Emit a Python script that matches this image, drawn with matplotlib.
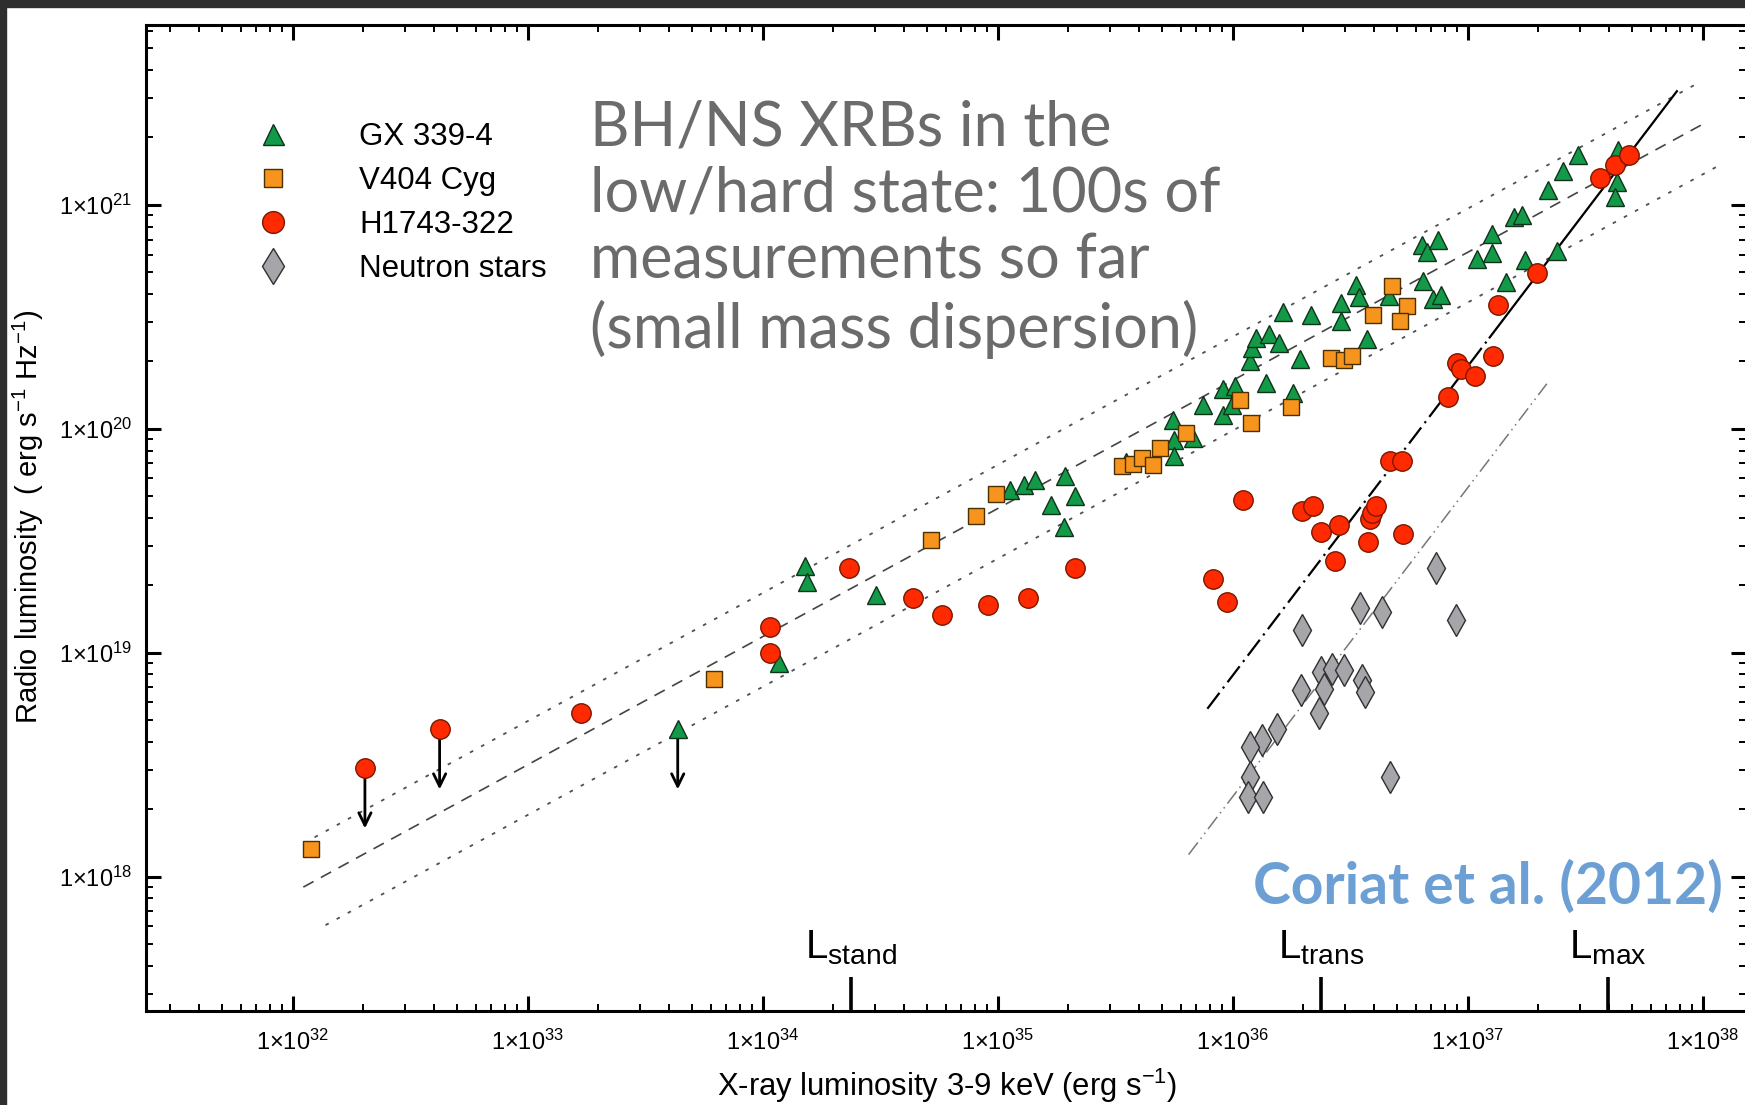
import numpy as np
import matplotlib as mpl
mpl.use('Agg')
import matplotlib.pyplot as plt
from matplotlib.patches import Rectangle
from matplotlib.ticker import LogLocator, FuncFormatter, NullFormatter

plt.rcParams['font.family'] = ['Liberation Sans', 'DejaVu Sans']
plt.rcParams['mathtext.fontset'] = 'custom'
plt.rcParams['mathtext.rm'] = 'Liberation Sans'
plt.rcParams['mathtext.it'] = 'Liberation Sans:italic'
plt.rcParams['mathtext.bf'] = 'Liberation Sans:bold'


##
## Data: X-ray luminosity / radio luminosity
##
gx_lx = [1.51e34, 1.54e34, 1.17e34, 3.03e34, 1.13e35, 1.29e35, 1.44e35, 1.93e35, 1.69e35, 2.13e35,
         1.91e35, 3.52e35, 5.56e35, 5.62e35, 5.62e35, 6.77e35, 7.47e35, 9.08e35, 9.08e35, 9.91e35,
         1.02e36, 1.19e36, 1.21e36, 1.26e36, 1.42e36, 1.57e36, 1.39e36, 1.81e36, 1.64e36, 2.15e36,
         1.93e36, 2.88e36, 2.88e36, 3.36e36, 3.44e36, 3.71e36, 4.61e36, 6.40e36, 6.68e36, 7.45e36,
         6.47e36, 7.13e36, 7.70e36, 1.09e37, 1.27e37, 1.27e37, 1.45e37, 1.76e37, 2.39e37, 1.57e37,
         1.71e37, 2.19e37, 2.55e37, 2.94e37, 4.36e37, 4.31e37, 4.22e37]
gx_lr = [2.43e19, 2.07e19, 8.97e18, 1.82e19, 5.35e19, 5.60e19, 5.93e19, 6.14e19, 4.56e19, 4.99e19,
         3.66e19, 7.11e19, 1.10e20, 8.95e19, 7.54e19, 9.06e19, 1.28e20, 1.15e20, 1.50e20, 1.28e20,
         1.55e20, 2.00e20, 2.29e20, 2.54e20, 2.65e20, 2.42e20, 1.60e20, 1.45e20, 3.33e20, 3.22e20,
         2.04e20, 3.66e20, 3.04e20, 4.39e20, 3.87e20, 2.51e20, 3.92e20, 6.63e20, 6.18e20, 6.94e20,
         4.59e20, 3.78e20, 3.96e20, 5.72e20, 7.43e20, 6.11e20, 4.54e20, 5.65e20, 6.25e20, 8.81e20,
         9.02e20, 1.17e21, 1.41e21, 1.67e21, 1.75e21, 1.27e21, 1.08e21]
gx_ul_lx = [4.35e33]
gx_ul_lr = [4.57e18]

v404_lx = [1.20e32, 6.2e33, 5.2e34, 8.1e34, 9.8e34, 3.37e35, 3.76e35, 4.1e35, 4.6e35, 4.9e35,
           6.3e35, 1.07e36, 1.20e36, 1.77e36, 2.62e36, 2.98e36, 3.22e36, 3.96e36, 4.77e36, 5.5e36,
           5.14e36]
v404_lr = [1.33e18, 7.6e18, 3.2e19, 4.1e19, 5.1e19, 6.8e19, 6.97e19, 7.4e19, 6.9e19, 8.2e19,
           9.6e19, 1.34e20, 1.06e20, 1.25e20, 2.08e20, 2.02e20, 2.11e20, 3.22e20, 4.34e20, 3.53e20,
           3.04e20]

h1743_lx = [1.68e33, 1.07e34, 1.07e34, 2.33e34, 4.34e34, 5.82e34, 9.1e34, 1.35e35, 2.13e35, 1.11e36,
            1.97e36, 2.20e36, 2.37e36, 2.82e36, 2.73e36, 8.24e35, 9.5e35, 3.75e36, 3.83e36, 3.92e36,
            4.09e36, 5.31e36, 4.66e36, 5.25e36, 8.22e36, 8.97e36, 9.37e36, 1.07e37, 1.28e37, 1.34e37,
            1.97e37, 3.66e37, 4.22e37, 4.86e37]
h1743_lr = [5.37e18, 1.31e19, 9.95e18, 2.38e19, 1.76e19, 1.47e19, 1.63e19, 1.76e19, 2.38e19, 4.83e19,
            4.31e19, 4.51e19, 3.47e19, 3.71e19, 2.57e19, 2.14e19, 1.69e19, 3.13e19, 3.97e19, 4.21e19,
            4.51e19, 3.39e19, 7.2e19, 7.2e19, 1.38e20, 1.97e20, 1.84e20, 1.72e20, 2.11e20, 3.57e20,
            4.98e20, 1.32e21, 1.51e21, 1.67e21]
h1743_ul_lx = [2.03e32, 4.22e32]
h1743_ul_lr = [3.06e18, 4.57e18]

ns_lx = [7.3e36, 3.48e36, 4.32e36, 8.87e36, 1.97e36, 2.37e36, 2.64e36, 2.98e36, 3.55e36, 3.67e36,
         2.45e36, 1.95e36, 2.34e36, 1.55e36, 1.33e36, 1.19e36, 1.18e36, 1.16e36, 1.35e36, 4.67e36]
ns_lr = [2.38e19, 1.59e19, 1.52e19, 1.40e19, 1.27e19, 8.2e18, 8.48e18, 8.38e18, 7.56e18, 6.67e18,
         6.9e18, 6.82e18, 5.37e18, 4.57e18, 4.07e18, 3.81e18, 2.8e18, 2.28e18, 2.28e18, 2.8e18]

## fitted relations: log Lr = norm + slope * (log Lx - 36)
std_slope, std_norm = 0.572, 20.216
std_band = [0.195, -0.224]
std_range = [1.11e32, 1.02e38]
band_ranges = [[1.24e32, 9.8e37], [1.38e32, 1.22e38]]
steep_slope, steep_norm = 1.38, 18.899
steep_range = [7.8e35, 1.24e37, 7.76e37]     # dash-dot part, then solid part
ns_slope, ns_norm = 1.379, 18.358
ns_range = [6.49e35, 2.17e37]

lmark_x = [2.37e34, 2.37e36, 3.95e37]
lmark_names = ['stand', 'trans', 'max']

ul_drop = 10**-0.27


##
## Figure
##
W, H = 1745, 1105
fig = plt.figure(figsize=(W/100, H/100), dpi=100)
fig.add_artist(Rectangle((0, 1 - 7/H), 1, 7/H, transform=fig.transFigure, color='#2e2e2e', zorder=0))
fig.add_artist(Rectangle((0, 0), 6/W, 1, transform=fig.transFigure, color='#2e2e2e', zorder=0))

ax = fig.add_axes([146/W, 1 - 1010.5/H, 1600/W, 986/H])
ax.set_xscale('log')
ax.set_yscale('log')
ax.set_xlim(10**31.376, 10**38.184)
ax.set_ylim(10**17.403, 10**21.805)


def relation(lx, slope, norm, off=0.0):
    lx = np.asarray(lx)
    return 10**(norm + off + slope*(np.log10(lx) - 36))


xx = np.array(std_range)
ax.plot(xx, relation(xx, std_slope, std_norm), color='#444444', lw=1.2, ls=(0, (7, 5)), zorder=2)
for off, rng in zip(std_band, band_ranges):
    xx = np.array(rng)
    ax.plot(xx, relation(xx, std_slope, std_norm, off), color='#505050', lw=1.3, ls=(0, (2, 5)), zorder=2)

xx = np.array(steep_range[:2])
ax.plot(xx, relation(xx, steep_slope, steep_norm), color='k', lw=1.6, ls=(0, (9, 2.5, 1, 2.5)), zorder=2)
xx = np.array(steep_range[1:])
ax.plot(xx, relation(xx, steep_slope, steep_norm), color='k', lw=1.6, ls='-', zorder=2)
xx = np.array(ns_range)
ax.plot(xx, relation(xx, ns_slope, ns_norm), color='#777777', lw=1.1, ls=(0, (10, 3, 1, 3, 1, 3)), zorder=2)

## upper limits
for lx, lr in zip(gx_ul_lx + h1743_ul_lx, gx_ul_lr + h1743_ul_lr):
    ax.annotate('', xy=(lx, lr*ul_drop), xytext=(lx, lr),
                arrowprops=dict(arrowstyle='->,head_length=0.45,head_width=0.22', lw=2.0, color='k',
                                shrinkA=0, shrinkB=0, mutation_scale=20), zorder=3)

h_gx, = ax.plot(gx_lx + gx_ul_lx, gx_lr + gx_ul_lr, ls='none', marker='^', ms=13.5, mfc='#129a48',
                mec='#10321a', mew=1.0, zorder=4, label='GX 339-4')
h_v4, = ax.plot(v404_lx, v404_lr, ls='none', marker='s', ms=11.5, mfc='#f7941d',
                mec='#4a3000', mew=1.0, zorder=5, label='V404 Cyg')
h_h1, = ax.plot(h1743_lx + h1743_ul_lx, h1743_lr + h1743_ul_lr, ls='none', marker='o', ms=14, mfc='#ff2a00',
                mec='#7a1800', mew=1.0, zorder=6, label='H1743-322')
h_ns, = ax.plot(ns_lx, ns_lr, ls='none', marker='d', ms=16, mfc='#a5a5aa',
                mec='#303030', mew=1.0, zorder=6, label='Neutron stars')

ax.legend(handles=[h_gx, h_v4, h_h1, h_ns], loc='upper left', bbox_to_anchor=(0.052, 0.914),
          borderaxespad=0, frameon=False, fontsize=22.5, handlelength=2.0, handletextpad=1.75,
          labelspacing=0.45, numpoints=1, markerscale=1.12)

## axes style
for sp in ax.spines.values():
    sp.set_linewidth(2.2)
ax.xaxis.set_major_locator(LogLocator(base=10, numticks=20))
ax.yaxis.set_major_locator(LogLocator(base=10, numticks=20))
ax.xaxis.set_minor_locator(LogLocator(base=10, subs=np.arange(2, 10), numticks=20))
ax.yaxis.set_minor_locator(LogLocator(base=10, subs=np.arange(2, 10), numticks=20))
fmt = FuncFormatter(lambda v, p: r'$\mathregular{1{\times}10^{%d}}$' % round(np.log10(v)))
ax.xaxis.set_major_formatter(fmt)
ax.yaxis.set_major_formatter(fmt)
ax.xaxis.set_minor_formatter(NullFormatter())
ax.yaxis.set_minor_formatter(NullFormatter())
ax.tick_params(which='both', direction='in', top=True, right=True)
ax.tick_params(which='major', length=11, width=2.2, labelsize=17)
ax.tick_params(which='minor', length=5, width=1.4)
ax.tick_params(axis='x', which='major', pad=14)
ax.tick_params(axis='y', which='major', pad=10)

## L_stand, L_trans, L_max markers
tr = ax.get_xaxis_transform()
for lx, name in zip(lmark_x, lmark_names):
    ax.plot([lx, lx], [0, 0.034], transform=tr, color='k', lw=2.6, solid_capstyle='butt', clip_on=False)
    ax.text(lx, 0.044, r'$\mathregular{L_{%s}}$' % name, transform=tr, ha='center', va='bottom', fontsize=29)

fig.text(947/W, 1 - 1096/H, r'X-ray luminosity 3-9 keV (erg s$^{\mathregular{-1}}$)',
         ha='center', va='baseline', fontsize=22.3)
fig.text(28/W, 1 - 517/H, r'Radio luminosity  ( erg s$^{\mathregular{-1}}$ Hz$^{\mathregular{-1}}$)',
         ha='center', va='center', rotation=90, fontsize=21)

fig.text(590/W, 1 - 99/H, 'BH/NS XRBs in the\nlow/hard state: 100s of\nmeasurements so far\n(small mass dispersion)',
         family=['Lato', 'DejaVu Sans'], fontsize=44, color='#6b6b6b', ha='left', va='top', linespacing=1.21)
fig.text(1723/W, 1 - 904/H, 'Coriat et al. (2012)', family=['Lato', 'DejaVu Sans'], fontweight='bold',
         fontsize=41, color='#6c9fd3', ha='right', va='baseline')

fig.savefig('out.png', dpi=100)
